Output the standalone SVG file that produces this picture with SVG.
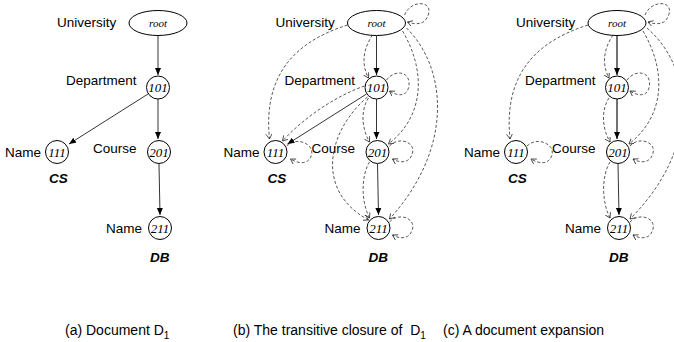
<svg xmlns="http://www.w3.org/2000/svg" width="674" height="342" viewBox="0 0 674 342">
<style>
.lbl{font-family:"Liberation Sans",Arial,sans-serif;font-size:13.5px;fill:#000}
.val{font-family:"Liberation Sans",Arial,sans-serif;font-size:13.5px;font-weight:bold;font-style:italic;fill:#000}
.id{font-family:"Liberation Serif","Times New Roman",serif;font-style:italic;font-size:13px;text-anchor:middle;fill:#000}
.rt{font-size:11px}
.node{fill:#fff;stroke:#000;stroke-width:1}
.e{fill:none;stroke:#000;stroke-width:0.8;marker-end:url(#fa)}
.e2{fill:none;stroke:#444;stroke-width:1.5;marker-end:url(#fa)}
.d{fill:none;stroke:#222;stroke-width:0.75;stroke-dasharray:3 2;marker-end:url(#oa)}
.cap{font-family:"Liberation Sans",Arial,sans-serif;font-size:14px;fill:#000}
</style>
<defs>
<marker id="fa" markerWidth="8" markerHeight="8" refX="7" refY="3" orient="auto" markerUnits="userSpaceOnUse"><path d="M0,0 L7,3 L0,6 z" fill="#000"/></marker>
<marker id="oa" markerWidth="8" markerHeight="8" refX="5" refY="3" orient="auto" markerUnits="userSpaceOnUse"><path d="M0,0 L5,3 L0,6" fill="none" stroke="#222" stroke-width="0.75"/></marker>
</defs>

<!-- Panel A -->
<g id="panel-a">
<g id="edges-a">
<path class="e" d="M158,36 L158,75"/>
<path class="e" d="M148,94 L69,144"/>
<path class="e" d="M158,99 L158,139"/>
<path class="e" d="M159,164 L160,215"/>
</g>
<g id="a-root"><text class="lbl" x="57" y="27">University</text><ellipse class="node" cx="158" cy="23" rx="29" ry="12.5"/><text class="id rt" x="158" y="26.5">root</text></g>
<g id="a-101"><text class="lbl" x="66" y="85">Department</text><circle class="node" cx="158" cy="87.5" r="11.5"/><text class="id" x="158" y="92">101</text></g>
<g id="a-111"><text class="lbl" x="5" y="157">Name</text><circle class="node" cx="57" cy="152" r="11.5"/><text class="id" x="57" y="156.5">111</text><text class="val" x="49" y="183">CS</text></g>
<g id="a-201"><text class="lbl" x="93" y="153">Course</text><circle class="node" cx="159" cy="152" r="11.5"/><text class="id" x="159" y="156.5">201</text></g>
<g id="a-211"><text class="lbl" x="106" y="233">Name</text><circle class="node" cx="160" cy="228" r="11.5"/><text class="id" x="160" y="232.5">211</text><text class="val" x="150" y="262">DB</text></g>
</g>

<!-- Panel B -->
<g id="panel-b" transform="translate(218.5,0)">
<g id="edges-b">
<path class="e" d="M158,36 L158,75"/>
<path class="e" d="M148,94 L69,144"/>
<path class="e" d="M158,99 L158,139"/>
<path class="e" d="M159,164 L160,215"/>
<path class="d" d="M186,15 C192,0 214,0 210,14 C207,25 198,25 189,22"/>
<path class="d" d="M129,25 C82,40 44,70 51,139"/>
<path class="d" d="M154,35 C144,50 143,65 150,78"/>
<path class="d" d="M184,31 C207,70 207,115 170,144"/>
<path class="d" d="M188,28 C230,70 234,150 171,219"/>
<path class="d" d="M146,86 C120,95 88,115 64,141"/>
<path class="d" d="M150,98 C142,110 143,128 151,142"/>
<path class="d" d="M149,97 C110,130 95,190 150,220"/>
<path class="d" d="M151,162 C143,175 142,200 151,218"/>
<path class="d" d="M168,80 C177,68 194,72 190,88 C187,98 177,95 171,91"/>
<path class="d" d="M68,146 C78,136 96,144 93,155 C90,165 80,164 72,159"/>
<path class="d" d="M171,146 C180,136 197,142 194,153 C191,164 181,163 174,159"/>
<path class="d" d="M171,222 C180,212 197,218 194,229 C191,240 181,239 174,235"/>
</g>
<g id="b-root"><text class="lbl" x="57" y="27">University</text><ellipse class="node" cx="158" cy="23" rx="29" ry="12.5"/><text class="id rt" x="158" y="26.5">root</text></g>
<g id="b-101"><text class="lbl" x="66" y="85">Department</text><circle class="node" cx="158" cy="87.5" r="11.5"/><text class="id" x="158" y="92">101</text></g>
<g id="b-111"><text class="lbl" x="5" y="157">Name</text><circle class="node" cx="57" cy="152" r="11.5"/><text class="id" x="57" y="156.5">111</text><text class="val" x="49" y="183">CS</text></g>
<g id="b-201"><text class="lbl" x="93" y="153">Course</text><circle class="node" cx="159" cy="152" r="11.5"/><text class="id" x="159" y="156.5">201</text></g>
<g id="b-211"><text class="lbl" x="106" y="233">Name</text><circle class="node" cx="160" cy="228" r="11.5"/><text class="id" x="160" y="232.5">211</text><text class="val" x="150" y="262">DB</text></g>
</g>

<!-- Panel C -->
<g id="panel-c" transform="translate(459,0)">
<g id="edges-c">
<path class="e2" d="M158,36 L158,75"/>
<path class="e2" d="M158,99 L158,139"/>
<path class="e" d="M159,164 L160,215"/>
<path class="d" d="M186,15 C192,0 214,0 210,14 C207,25 198,25 189,22"/>
<path class="d" d="M129,25 C82,40 44,70 51,139"/>
<path class="d" d="M154,35 C144,50 143,65 150,78"/>
<path class="d" d="M184,31 C207,70 207,115 170,144"/>
<path class="d" d="M188,28 C236,70 240,150 171,219"/>
<path class="d" d="M150,98 C142,110 143,128 151,142"/>
<path class="d" d="M151,162 C143,175 142,200 151,218"/>
<path class="d" d="M168,80 C177,68 194,72 190,88 C187,98 177,95 171,91"/>
<path class="d" d="M68,146 C78,136 96,144 93,155 C90,165 80,164 72,159"/>
<path class="d" d="M171,146 C180,136 197,142 194,153 C191,164 181,163 174,159"/>
<path class="d" d="M171,222 C180,212 197,218 194,229 C191,240 181,239 174,235"/>
</g>
<g id="c-root"><text class="lbl" x="57" y="27">University</text><ellipse class="node" cx="158" cy="23" rx="29" ry="12.5"/><text class="id rt" x="158" y="26.5">root</text></g>
<g id="c-101"><text class="lbl" x="66" y="85">Department</text><circle class="node" cx="158" cy="87.5" r="11.5"/><text class="id" x="158" y="92">101</text></g>
<g id="c-111"><text class="lbl" x="5" y="157">Name</text><circle class="node" cx="57" cy="152" r="11.5"/><text class="id" x="57" y="156.5">111</text><text class="val" x="49" y="183">CS</text></g>
<g id="c-201"><text class="lbl" x="93" y="153">Course</text><circle class="node" cx="159" cy="152" r="11.5"/><text class="id" x="159" y="156.5">201</text></g>
<g id="c-211"><text class="lbl" x="106" y="233">Name</text><circle class="node" cx="160" cy="228" r="11.5"/><text class="id" x="160" y="232.5">211</text><text class="val" x="150" y="262">DB</text></g>
</g>

<g id="captions">
<text class="cap" x="65" y="335">(a) Document D<tspan font-size="10" dy="4">1</tspan></text>
<text class="cap" x="233" y="335" xml:space="preserve">(b) The transitive closure of  D<tspan font-size="10" dy="4">1</tspan></text>
<text class="cap" x="443" y="335">(c) A document expansion</text>
</g>
</svg>
